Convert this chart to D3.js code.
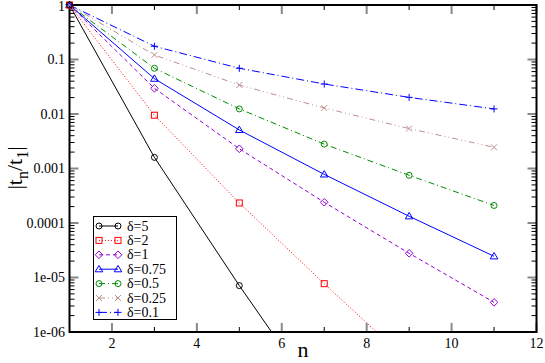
<!DOCTYPE html>
<html><head><meta charset="utf-8">
<script src="https://cdn.jsdelivr.net/npm/d3@7"></script>
<style>body{margin:0;background:#fff}svg{display:block}
text{font-family:"Liberation Serif","LiberationSerif","Tinos","Times New Roman","Times","DejaVu Serif","Noto Serif","FreeSerif",serif}</style>
</head><body><svg id="c" width="545" height="363"></svg>
<script>
const nValues = [1, 3, 5, 7, 9, 11];
const seriesNames = ["δ=5", "δ=2", "δ=1", "δ=0.75", "δ=0.5", "δ=0.25", "δ=0.1"];
const d5   = [1, 0.0016, 7.1e-6, 4.1e-8, 2.5e-10, 1.6e-12];
const d2   = [1, 0.0095, 2.33e-4, 7.7e-6, 2.8e-7, 1.1e-8];
const d1   = [1, 0.0296, 0.0023, 0.00024, 2.78e-5, 3.5e-6];
const d075 = [1, 0.0445, 0.0051, 0.00078, 0.000133, 2.45e-5];
const d05  = [1, 0.069, 0.0124, 0.0028, 0.00075, 0.00021];
const d025 = [1, 0.121, 0.034, 0.0129, 0.0054, 0.00245];
const d01  = [1, 0.175, 0.069, 0.0355, 0.0202, 0.0124];
const xTickLabels = ["2", "4", "6", "8", "10", "12"];
const yTickLabels = ["1", "0.1", "0.01", "0.001", "0.0001", "1e-05", "1e-06"];

const allSeries = [d5, d2, d1, d075, d05, d025, d01];
const colors = ["#000000", "#ff0000", "#9400d3", "#0000ff", "#008b00", "#bc8f8f", "#0000ff"];
const dashes = [null, "1,2", "4,3", null, "6,3,1,3", "6,3,1,3,1,3", "8,3,1,3"];
const markers = ["circle", "square", "diamond", "triangle", "circle", "x", "plus"];

const svg = d3.select("#c");
const L = 69.5, R = 536.5, T = 5, B = 332;
const x = d3.scaleLinear().domain([1, 12]).range([L, R]);
const y = d3.scaleLog().domain([1e-6, 1]).range([B, T]);

svg.append("defs").append("clipPath").attr("id", "pc")
  .append("rect").attr("x", L).attr("y", T).attr("width", R - L).attr("height", B - T);

// ticks
const g = svg.append("g");
const majX = d3.range(2, 13, 2), minX = d3.range(1, 12, 2).filter(v => v > 1);
const majY = d3.range(-6, 1).map(e => Math.pow(10, e));
const minY = [];
for (let e = -6; e < 0; e++) for (let k = 2; k <= 9; k++) minY.push(k * Math.pow(10, e));

function tickX(v, len, col, w) {
  g.append("line").attr("x1", x(v)).attr("x2", x(v)).attr("y1", B).attr("y2", B - len).attr("stroke", col).attr("stroke-width", w);
  g.append("line").attr("x1", x(v)).attr("x2", x(v)).attr("y1", T).attr("y2", T + len).attr("stroke", col).attr("stroke-width", w);
}
function tickY(v, len, col, w) {
  g.append("line").attr("y1", y(v)).attr("y2", y(v)).attr("x1", L).attr("x2", L + len).attr("stroke", col).attr("stroke-width", w);
  g.append("line").attr("y1", y(v)).attr("y2", y(v)).attr("x1", R).attr("x2", R - len).attr("stroke", col).attr("stroke-width", w);
}
majX.forEach(v => tickX(v, 9, "#888", 2));
minX.forEach(v => tickX(v, 5, "#000", 1));
majY.forEach(v => tickY(v, 9, "#888", 2));
minY.forEach(v => tickY(v, 5, "#000", 1));

// frame
svg.append("rect").attr("x", L).attr("y", T).attr("width", R - L).attr("height", B - T)
  .attr("fill", "none").attr("stroke", "#000").attr("stroke-width", 2);

// tick labels
svg.selectAll(".xl").data(majX).enter().append("text")
  .attr("x", d => x(d)).attr("y", 348).attr("text-anchor", "middle")
  .attr("font-size", 14).text((d, i) => xTickLabels[i]);
svg.selectAll(".yl").data(majY.slice().reverse()).enter().append("text")
  .attr("x", 65).attr("y", d => Math.max(y(d) + 4.5, 11)).attr("text-anchor", "end")
  .attr("font-size", 14).text((d, i) => yTickLabels[i]);

// axis titles
svg.append("text").attr("x", 303).attr("y", 357).attr("text-anchor", "middle")
  .attr("font-size", 22).text("n");
const yt = svg.append("text").attr("transform", "translate(22,168) rotate(-90)")
  .attr("text-anchor", "middle").attr("font-size", 22);
yt.append("tspan").text("|t");
yt.append("tspan").attr("dy", 6).attr("font-size", 16).text("n");
yt.append("tspan").attr("dy", -6).text("/t");
yt.append("tspan").attr("dy", 6).attr("font-size", 16).text("1");
yt.append("tspan").attr("dy", -6).text("|");

// marker drawer
function drawMarker(sel, type, cx, cy, col) {
  const s = 3;
  if (type === "circle") sel.append("circle").attr("cx", cx).attr("cy", cy).attr("r", s).attr("fill", "none").attr("stroke", col);
  else if (type === "square") sel.append("rect").attr("x", cx - s).attr("y", cy - s).attr("width", 2 * s).attr("height", 2 * s).attr("fill", "none").attr("stroke", col);
  else if (type === "diamond") sel.append("path").attr("d", `M${cx},${cy - 3.8}L${cx + 3.8},${cy}L${cx},${cy + 3.8}L${cx - 3.8},${cy}Z`).attr("fill", "none").attr("stroke", col);
  else if (type === "triangle") sel.append("path").attr("d", `M${cx},${cy - 3.8}L${cx + 3.8},${cy + 2.6}L${cx - 3.8},${cy + 2.6}Z`).attr("fill", "none").attr("stroke", col);
  else if (type === "x") sel.append("path").attr("d", `M${cx - s},${cy - s}L${cx + s},${cy + s}M${cx - s},${cy + s}L${cx + s},${cy - s}`).attr("stroke", col);
  else if (type === "plus") sel.append("path").attr("d", `M${cx - 3.5},${cy}L${cx + 3.5},${cy}M${cx},${cy - 3.5}L${cx},${cy + 3.5}`).attr("stroke", col);
}

const line = d3.line().x(d => x(d[0])).y(d => y(d[1]));
const lines = svg.append("g").attr("clip-path", "url(#pc)");
allSeries.slice().reverse().forEach((vals, ri) => {
  const i = allSeries.length - 1 - ri;
  const pts = nValues.map((n, j) => [n, vals[j]]);
  lines.append("path").attr("d", line(pts)).attr("fill", "none").attr("stroke", colors[i])
    .attr("stroke-width", 1).attr("stroke-dasharray", dashes[i]);
});
const mg = svg.append("g");
allSeries.slice().reverse().forEach((vals, ri) => {
  const i = allSeries.length - 1 - ri;
  nValues.forEach((n, j) => {
    if (vals[j] >= 1e-6) drawMarker(mg, markers[i], x(n), y(vals[j]), colors[i]);
  });
});

// legend
const lg = svg.append("g");
lg.append("rect").attr("x", 93.5).attr("y", 216.5).attr("width", 83).attr("height", 103)
  .attr("fill", "#fff").attr("stroke", "#000").attr("stroke-width", 1);
seriesNames.forEach((name, i) => {
  const cy = 226 + i * 14.4;
  lg.append("line").attr("x1", 99).attr("x2", 118).attr("y1", cy).attr("y2", cy)
    .attr("stroke", colors[i]).attr("stroke-dasharray", dashes[i]);
  drawMarker(lg, markers[i], 99, cy, colors[i]);
  drawMarker(lg, markers[i], 118, cy, colors[i]);
  lg.append("text").attr("x", 127).attr("y", cy + 4.5)
    .attr("font-size", 14).text(name);
});
</script></body></html>
